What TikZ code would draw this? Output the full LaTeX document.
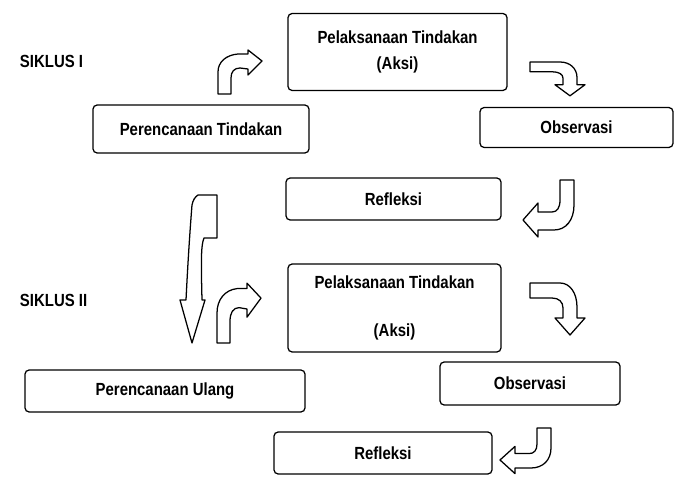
\documentclass[tikz,border=0pt]{standalone}
\usepackage{fontspec}
\setmainfont{Liberation Sans}[FakeStretch=0.85]

\tikzset{
  turnup/.pic={\path[blockarrow] (0,0) -- (0,-22) .. controls (0,-32) and (8,-39) .. (20,-40) -- (30,-40) -- (30,-44) -- (44,-33) -- (30,-19) -- (30,-25) -- (22,-26) .. controls (16,-26) and (13,-22) .. (13,-16) -- (13,0) -- cycle;},
  turndown/.pic={\path[blockarrow] (0,0) -- (30,0) .. controls (40,0) and (47,10) .. (47,24) -- (47,35) -- (55,35) -- (40,52) -- (25,35) -- (33,35) -- (33,25) .. controls (33,19) and (29,15) .. (22,15) -- (0,15) -- cycle;},
  turnleft/.pic={\path[blockarrow] (0,0) -- (14,0) -- (14,25) .. controls (14,40) and (6,50) .. (-6,50) -- (-22,50) -- (-22,57) -- (-37,40) -- (-22,23) -- (-22,32) -- (-8,32) .. controls (-3,32) and (0,28) .. (0,20) -- cycle;}
}

\begin{document}
\begin{tikzpicture}[
  x=0.025cm, y=-0.025cm,
  font=\bfseries\fontsize{12.5}{18}\selectfont,
  box/.style={draw, line width=0.9pt, rounded corners=3pt, align=center, inner sep=0pt},
  blockarrow/.style={draw, line width=0.9pt, line join=round, fill=white}
]
\useasboundingbox (0,0) rectangle (684,477);

\node[anchor=west] (siklus1) at (15,61) {SIKLUS I};
\node[anchor=west] (siklus2) at (15,300) {SIKLUS II};

\node[box, minimum width=5.475cm, minimum height=1.925cm] (aksi1) at (397.5,52) {Pelaksanaan Tindakan\\(Aksi)};
\node[box, minimum width=5.4cm, minimum height=1.2cm] (rencana1) at (201,129) {Perencanaan Tindakan};
\node[box, minimum width=4.825cm, minimum height=1cm] (observasi1) at (576.5,127.5) {Observasi};
\node[box, minimum width=5.375cm, minimum height=1.05cm] (refleksi1) at (393.5,199) {Refleksi};
\node[box, minimum width=5.325cm, minimum height=2.2cm] (aksi2) at (394.5,308) {Pelaksanaan Tindakan\\[16pt](Aksi)};
\node[box, minimum width=7cm, minimum height=1.05cm] (ulang2) at (165,391) {Perencanaan Ulang};
\node[box, minimum width=4.5cm, minimum height=1.075cm] (observasi2) at (530,383.5) {Observasi};
\node[box, minimum width=5.45cm, minimum height=1.05cm] (refleksi2) at (383,453) {Refleksi};

\pic at (218,94) {turnup};
\pic[yscale=0.65] at (530,62) {turndown};
\pic at (560,180) {turnleft};
\path[blockarrow] (198,195) -- (217,195) -- (217,238) -- (204,238) .. controls (201,245) and (201,260) .. (202,300) -- (205,300) -- (192,343) -- (180,300) -- (186,300) .. controls (188,260) and (190,230) .. (192,205) .. controls (193,200) and (195,197) .. (198,195) -- cycle;
\pic[yscale=1.36] at (217,343) {turnup};
\pic at (530,283) {turndown};
\pic[yscale=0.8] at (537,428) {turnleft};
\end{tikzpicture}
\end{document}
